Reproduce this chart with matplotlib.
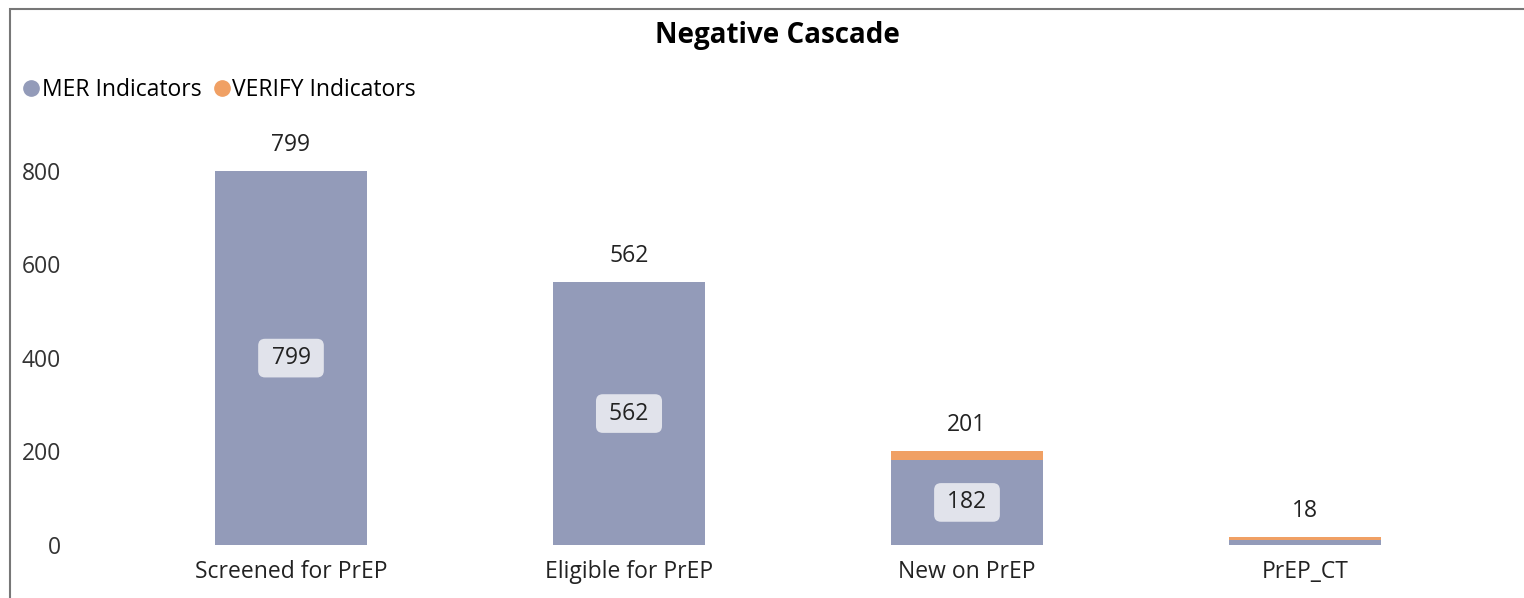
import matplotlib.pyplot as plt
from matplotlib.lines import Line2D
from matplotlib.patches import Rectangle

# ------------------------------------------------------
# DADOS
# ------------------------------------------------------
categories = ["Screened for PrEP", "Eligible for PrEP", "New on PrEP", "PrEP_CT"]
mer_values = [799, 562, 182, 10]
verify_values = [0, 0, 19, 8]
totals = [799, 562, 201, 18]
yticks = [0, 200, 400, 600, 800]

MER_COLOR = "#939bb9"
VERIFY_COLOR = "#f0a064"
BOX_COLOR = "#e1e3eb"
FS = 16.5

plt.rcParams["font.family"] = ["Open Sans", "DejaVu Sans"]

fig = plt.figure(figsize=(15.24, 5.98), dpi=100)
ax = fig.add_axes([122 / 1524, 53 / 598, 1352 / 1524, 407 / 598])

x = range(len(categories))
ax.bar(x, mer_values, width=0.45, color=MER_COLOR, zorder=2)
ax.bar(x, verify_values, width=0.45, bottom=mer_values, color=VERIFY_COLOR, zorder=2)

for i, (m, t) in enumerate(zip(mer_values, totals)):
    ax.annotate(str(t), (i, t), xytext=(0, 10), textcoords="offset points",
                ha="center", va="bottom", fontsize=FS, color="#222222")
    if m > 100:
        ax.text(i, m / 2, f" {m} ", ha="center", va="center", fontsize=FS,
                color="#222222", zorder=3,
                bbox=dict(boxstyle="round,pad=0.32,rounding_size=0.3",
                          fc=BOX_COLOR, ec="none"))

ax.set_xlim(-0.5, len(categories) - 0.5)
ax.set_ylim(0, 870)
ax.set_yticks(yticks)
ax.set_yticklabels([str(v) for v in yticks], fontsize=FS, color="#333333")
ax.set_xticks(list(x))
ax.set_xticklabels(categories, fontsize=FS, color="#222222")
ax.tick_params(axis="both", length=0)
ax.tick_params(axis="y", pad=44)
ax.tick_params(axis="x", pad=11)
for s in ax.spines.values():
    s.set_visible(False)

# título e legenda
fig.text(777 / 1524, 1 - 35 / 598, "Negative Cascade", ha="center", va="center",
         fontsize=20, fontweight="bold")
handles = [
    Line2D([], [], marker="o", ls="", color=MER_COLOR, markersize=11),
    Line2D([], [], marker="o", ls="", color=VERIFY_COLOR, markersize=11),
]
fig.legend(handles, ["MER Indicators", "VERIFY Indicators"], loc="center left",
           bbox_to_anchor=(-3 / 1524, 1 - 90 / 598), ncol=2, frameon=False,
           fontsize=FS, handletextpad=-0.15, columnspacing=0.3, handlelength=1.2)

# moldura
fig.patches.append(Rectangle((10 / 1524, -0.1), 1.2, 1 - 9 / 598 + 0.1,
                             transform=fig.transFigure, fill=False,
                             ec="#777777", lw=1.5))

fig.savefig("out.png", dpi=100)
